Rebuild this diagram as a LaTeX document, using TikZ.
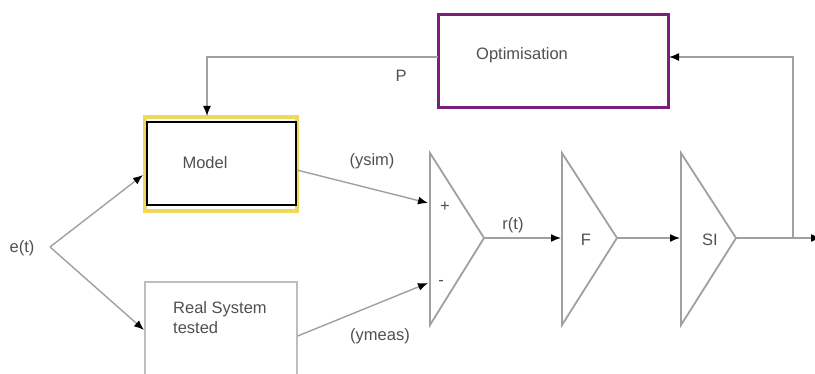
\documentclass[tikz,border=0pt]{standalone}
\usepackage{fontspec}
\setmainfont{Liberation Sans}
\usetikzlibrary{arrows.meta}
\definecolor{linegray}{HTML}{A0A0A0}
\definecolor{optpurple}{HTML}{7A1E7E}
\definecolor{modelyellow}{HTML}{EFD860}
\definecolor{txtgray}{HTML}{505050}

\begin{document}
\begin{tikzpicture}[x=1pt, y=-1pt,
    lbl/.style={text=txtgray, font=\fontsize{16.5}{20}\selectfont, inner sep=0pt, align=left},
    wire/.style={draw=linegray, line width=1.4pt},
    arr/.style={wire, -{Latex[length=10pt,width=8pt,color=black]}},
    tri/.style={draw=linegray, line width=1.8pt, line join=miter}]
    \useasboundingbox (0,0) rectangle (815,374);

    % blocks
    \node[draw=optpurple, line width=3pt, minimum width=230, minimum height=93] (opt) at (553,61.5) {};
    \node[lbl, anchor=west] (optlbl) at (476,55) {Optimisation};

    \draw[modelyellow, line width=4pt] (145,117) rectangle (297,211);
    \node[draw=black, line width=1.5pt, minimum width=149, minimum height=83] (model) at (221.5,163.5) {};
    \node[lbl] (modellbl) at (205,163) {Model};

    \node[draw=linegray!70, line width=1.4pt, minimum width=152, minimum height=108] (real) at (221,336) {};
    \node[lbl, anchor=west] (reallbl) at (173,318) {Real System\\tested};

    % comparator, filter, SI
    \draw[tri] (430,153) -- (484,238) -- (430,325) -- cycle;
    \draw[tri] (562,153) -- (617,238) -- (562,325) -- cycle;
    \draw[tri] (681,153) -- (736,238) -- (681,325) -- cycle;
    \coordinate (sumtip) at (484,238);
    \coordinate (sumplus) at (428,203);
    \coordinate (summinus) at (428,283);
    \coordinate (fin) at (561,238);
    \coordinate (ftip) at (617,238);
    \coordinate (siin) at (680,238);
    \coordinate (sitip) at (736,238);
    \node[lbl] (plus) at (445,207) {+};
    \node[lbl] (minus) at (441,283) {-};
    \node[lbl] (flbl) at (586,240) {F};
    \node[lbl] (silbl) at (710,240) {SI};

    % signals
    \node[lbl] (elbl) at (22,248) {e(t)};
    \coordinate (split) at (50,247);
    \coordinate (modelin) at (143,175);
    \coordinate (realin) at (144,330);
    \draw[arr] (split) -- (modelin);
    \draw[arr] (split) -- (realin);

    \draw[arr] ([yshift=-6.5pt]model.east) -- (sumplus);
    \draw[arr] (real.east) -- (summinus);
    \node[lbl] (ysimlbl) at (372,161) {(ysim)};
    \node[lbl] (ymeaslbl) at (380,336) {(ymeas)};

    \draw[arr] (sumtip) -- (fin);
    \node[lbl] (rlbl) at (513,225) {r(t)};
    \draw[arr] (ftip) -- (siin);
    \coordinate (branch) at (793,238);
    \coordinate (outend) at (821,238);
    \draw[arr] (sitip) -- (outend);

    % feedback loop
    \coordinate (optin) at (669,57);
    \coordinate (optout) at (438,57);
    \coordinate (modeltop) at (207,116);
    \draw[arr] (branch) |- (optin);
    \draw[arr] (optout) -| (modeltop);
    \node[lbl] (plbl) at (401,76) {P};
\end{tikzpicture}
\end{document}
